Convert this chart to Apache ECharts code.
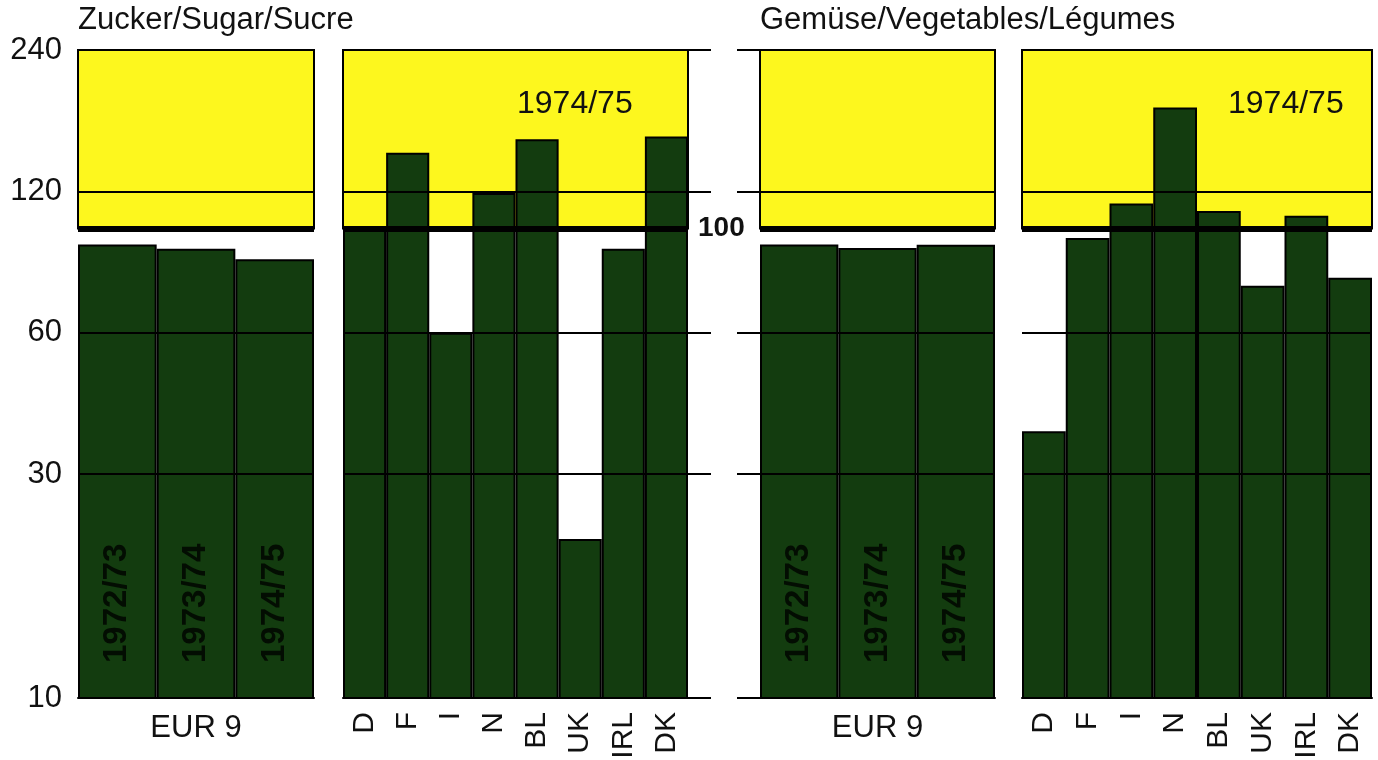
<!DOCTYPE html>
<html>
<head>
<meta charset="utf-8">
<script src="https://cdn.jsdelivr.net/npm/echarts@6/dist/echarts.min.js"></script>
<style>
  html, body { margin: 0; padding: 0; background: #fff; }
  #chart { width: 1378px; height: 760px; }
</style>
</head>
<body>
<div id="chart"></div>
<script>
// categories
const years = ['1972/73', '1973/74', '1974/75'];
const countries = ['D', 'F', 'I', 'N', 'BL', 'UK', 'IRL', 'DK'];

// index values (log scale, 100 = base)
const sugarEur = [92.5, 90.5, 86];
const sugarCountries = [100, 145, 60, 119, 155, 21.8, 90.5, 157];
const vegEur = [92.5, 90.9, 92.3];
const vegCountries = [37, 95.5, 113, 181, 109, 75.5, 106.5, 78.5];

// axis
const tickValues = [10, 30, 60, 120, 240];
const gridValues = [30, 60, 120, 240];
const baseValue = 100;
const yMin = 10, yMax = 240;

const FONT = '"Liberation Sans", Arial, sans-serif';
const YELLOW = '#fdf71e';
const GREEN = '#133c0f';
const INK = '#111';

const chart = echarts.init(document.getElementById('chart'));

// grid boxes: 4 bar panels + 2 short strips where the gridlines run past the bars
const boxes = [
  { left: 78, width: 236 },   // sugar EUR 9
  { left: 343, width: 345 },  // sugar countries
  { left: 760, width: 235 },  // vegetables EUR 9
  { left: 1022, width: 350 }, // vegetables countries
  { left: 688, width: 23 },   // sugar gridline ends
  { left: 737, width: 23 }    // vegetables gridline starts
];
const grids = boxes.map(b => ({
  left: b.left, width: b.width, top: 50, height: 648,
  containLabel: false, outerBoundsMode: 'none'
}));

const thinLine = { color: '#000', width: 2, type: 'solid' };
const thickLine = { color: '#000', width: 6, type: 'solid' };

function lineItems(values, labelled) {
  return values.map(v => ({
    yAxis: v,
    lineStyle: thinLine,
    label: labelled
      ? { show: true, position: 'start', distance: 16, formatter: String(v),
          fontSize: 31, color: INK, fontFamily: FONT }
      : { show: false }
  }));
}

function baseItem(withLabel) {
  return {
    yAxis: baseValue,
    lineStyle: thickLine,
    label: withLabel
      ? { show: true, position: 'end', distance: 10, formatter: String(baseValue),
          fontSize: 28, fontWeight: 'bold', color: INK, fontFamily: FONT }
      : { show: false }
  };
}

const catName = { fontSize: 31, color: INK, fontFamily: FONT };
const catLabel = { rotate: 90, margin: 14, fontSize: 30, color: INK, fontFamily: FONT };

const xAxes = [
  { gridIndex: 0, type: 'category', data: years, axisLabel: { show: false },
    name: 'EUR 9', nameLocation: 'middle', nameGap: 15, nameTextStyle: catName },
  { gridIndex: 1, type: 'category', data: countries, axisLabel: catLabel },
  { gridIndex: 2, type: 'category', data: years, axisLabel: { show: false },
    name: 'EUR 9', nameLocation: 'middle', nameGap: 15, nameTextStyle: catName },
  { gridIndex: 3, type: 'category', data: countries, axisLabel: catLabel },
  { gridIndex: 4, type: 'value', min: 0, max: 1, show: false },
  { gridIndex: 5, type: 'value', min: 0, max: 1, show: false }
].map((a, i) => i < 4 ? Object.assign(a, {
  axisLine: { show: true, lineStyle: { color: '#000', width: 2 } },
  axisTick: { show: false },
  splitLine: { show: false }
}) : a);

const yAxes = grids.map((g, i) => ({
  gridIndex: i, type: 'log', logBase: 10, min: yMin, max: yMax,
  axisLine: { show: false }, axisTick: { show: false },
  axisLabel: { show: false }, splitLine: { show: false }
}));

const yellowArea = {
  silent: true,
  itemStyle: { color: YELLOW, borderColor: '#000', borderWidth: 2 },
  data: [[{ yAxis: baseValue }, { yAxis: yMax }]]
};

function bars(idx, data, opts) {
  return Object.assign({
    type: 'bar',
    xAxisIndex: idx, yAxisIndex: idx,
    data: data,
    barCategoryGap: '0%',
    itemStyle: { color: GREEN, borderColor: '#000', borderWidth: 2 },
    emphasis: { disabled: true },
    markArea: yellowArea,
    z: 2
  }, opts);
}

// year labels written upwards inside the EUR 9 bars
const yearLabel = {
  show: true, position: 'insideBottom', distance: 36, rotate: 90,
  align: 'left', verticalAlign: 'middle', formatter: '{b}',
  fontSize: 33, fontWeight: 'bold', color: '#030d02', fontFamily: FONT
};

const series = [
  bars(0, sugarEur, {
    label: yearLabel,
    markLine: { silent: true, symbol: ['none', 'none'],
      data: lineItems(tickValues, true).concat([baseItem(false)]) }
  }),
  bars(1, sugarCountries, {
    markLine: { silent: true, symbol: ['none', 'none'],
      data: lineItems(gridValues, false).concat([baseItem(true)]) }
  }),
  bars(2, vegEur, {
    label: yearLabel,
    markLine: { silent: true, symbol: ['none', 'none'],
      data: lineItems(gridValues, false).concat([baseItem(false)]) }
  }),
  bars(3, vegCountries, {
    markLine: { silent: true, symbol: ['none', 'none'],
      data: lineItems(gridValues, false).concat([baseItem(false)]) }
  }),
  { type: 'line', xAxisIndex: 4, yAxisIndex: 4, data: [],
    markLine: { silent: true, symbol: ['none', 'none'], data: lineItems(tickValues, false) } },
  { type: 'line', xAxisIndex: 5, yAxisIndex: 5, data: [],
    markLine: { silent: true, symbol: ['none', 'none'], data: lineItems(tickValues, false) } }
];

const titleStyle = { fontSize: 31, fontWeight: 'normal', color: INK, fontFamily: FONT };
const seasonStyle = { fontSize: 32, fontWeight: 'normal', color: INK, fontFamily: FONT };

chart.setOption({
  animation: false,
  backgroundColor: '#fff',
  title: [
    { text: 'Zucker/Sugar/Sucre', left: 78, top: 5, padding: 0, textStyle: titleStyle },
    { text: 'Gemüse/Vegetables/Légumes', left: 760, top: 5, padding: 0, textStyle: titleStyle },
    { text: '1974/75', left: 517, top: 88, padding: 0, textStyle: seasonStyle },
    { text: '1974/75', left: 1228, top: 88, padding: 0, textStyle: seasonStyle }
  ],
  grid: grids,
  xAxis: xAxes,
  yAxis: yAxes,
  series: series
});
</script>
</body>
</html>
